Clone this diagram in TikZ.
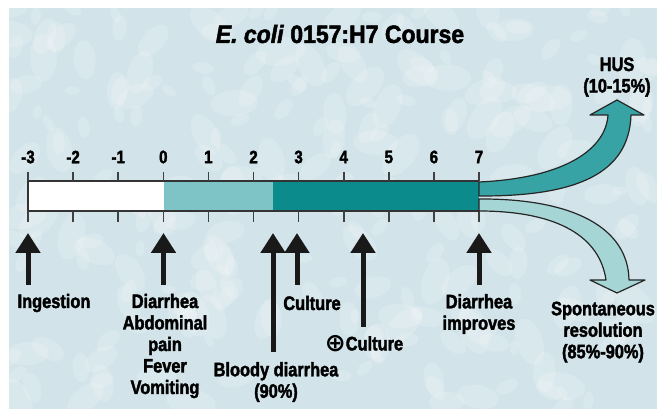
\documentclass[tikz,border=0pt]{standalone}
\usepackage{fontspec}
\setmainfont{Liberation Sans}
\newfontfamily\condfont[FakeStretch=0.84,FakeBold=2]{Liberation Sans}
\newfontfamily\titlefont[FakeStretch=0.92,FakeBold=2]{Liberation Sans}
\newfontfamily\symfont{DejaVu Sans}
\usetikzlibrary{arrows.meta}
\definecolor{bgblue}{HTML}{D2E4E9}
\definecolor{tealdark}{HTML}{0B8B8C}
\definecolor{teallight}{HTML}{7EC3C5}
\definecolor{tealmid}{HTML}{38A3A5}
\definecolor{tealpale}{HTML}{A6D5D6}
\tikzset{
  daylbl/.style={font=\condfont\bfseries\fontsize{18}{20}\selectfont,inner sep=0pt},
  evtlbl/.style={font=\condfont\bfseries\fontsize{19.5}{21.5}\selectfont,align=center,inner sep=0pt},
  evt/.style={-{Triangle[length=20pt,width=24pt]},line width=5pt,draw=black!90},
  tick/.style={line width=1.6pt,draw=black!75},
  branch/.style={draw=black!85,line width=1.2pt,line join=round}
}

\begin{document}
\begin{tikzpicture}[x=1pt,y=-1pt,
  titlelbl/.style={font=\titlefont\bfseries\fontsize{25}{28}\selectfont,inner sep=0pt},
  blob/.style={fill=white,opacity=0.16}
]
\useasboundingbox (0,0) rectangle (657,411);
\fill[white] (0,0) rectangle (657,411);
\fill[bgblue] (9,8) rectangle (657,409);
\begin{scope}
  \clip (9,8) rectangle (657,409);
  \pgfmathsetseed{11}
  \foreach \i in {1,...,260}{
    \pgfmathsetmacro{\bx}{9+648*rnd}
    \pgfmathsetmacro{\by}{8+401*rnd}
    \pgfmathsetmacro{\br}{4+10*rnd}
    \pgfmathsetmacro{\ba}{180*rnd}
    \fill[blob,rotate around={\ba:(\bx,\by)}] (\bx,\by) ellipse ({\br*1.8} and \br);
  }
\end{scope}

\node[titlelbl] (title) at (340,34) {\textit{E. coli} 0157:H7 Course};

\fill[white] (28,181) rectangle (163.5,211);
\fill[teallight] (163.5,181) rectangle (273,211);
\fill[tealdark] (273,181) rectangle (479,211);
\draw[line width=1.5pt,draw=black!80] (479,181) -- (28,181) -- (28,211) -- (479,211);

\foreach \d in {-3,...,7}{
  \pgfmathsetmacro{\dx}{28+45.1*(\d+3)}
  \node[daylbl] (day\d) at (\dx,157) {\d};
  \draw[tick] (\dx,172) -- (\dx,181);
  \draw[tick] (\dx,211) -- (\dx,222);
}

\filldraw[branch,fill=tealmid] (479,182) .. controls (567,178) and (606,148) .. (608,115)
  -- (590,115) -- (617,100) -- (644,115) -- (631,115)
  .. controls (629,174) and (576,196) .. (482,196) -- (479,196) -- cycle;
\filldraw[branch,fill=tealpale] (479,199) -- (482,199) .. controls (574,199) and (628,228) .. (629,280)
  -- (645,280) -- (617,293) -- (590,280) -- (606,280)
  .. controls (600,238) and (560,211) .. (479,211) -- cycle;

\node[evtlbl] (hus) at (617,77) {HUS\\(10-15\%)};
\node[evtlbl] (resolution) at (603,332) {Spontaneous\\resolution\\(85\%-90\%)};

\coordinate (ingtop) at (28,233);
\coordinate (ingbot) at (28,285);
\coordinate (onsettop) at (163.5,233);
\coordinate (onsetbot) at (163.5,285);
\coordinate (bloodytop) at (273,233);
\coordinate (bloodybot) at (273,352);
\coordinate (culttop) at (297,233);
\coordinate (cultbot) at (297,285);
\coordinate (postop) at (363,233);
\coordinate (posbot) at (363,327);
\coordinate (imprtop) at (479,233);
\coordinate (imprbot) at (479,285);

\draw[evt] (ingbot) -- (ingtop);
\draw[evt] (onsetbot) -- (onsettop);
\draw[evt] (bloodybot) -- (bloodytop);
\draw[evt] (cultbot) -- (culttop);
\draw[evt] (posbot) -- (postop);
\draw[evt] (imprbot) -- (imprtop);

\node[evtlbl] (ingestion) at (54,303) {Ingestion};
\node[evtlbl] (onset) at (165,346) {Diarrhea\\Abdominal\\pain\\Fever\\Vomiting};
\node[evtlbl] (culture) at (312,303) {Culture};
\node[evtlbl] (posculture) at (364,344) {\raisebox{-1.5pt}{\symfont\fontsize{25}{25}\selectfont ⊕}Culture};
\node[evtlbl] (bloody) at (276,382) {Bloody diarrhea\\(90\%)};
\node[evtlbl] (improves) at (479,314) {Diarrhea\\improves};
\end{tikzpicture}
\end{document}
